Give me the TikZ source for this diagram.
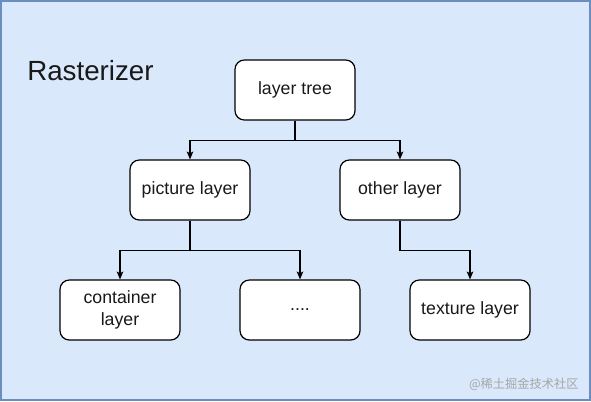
\documentclass[tikz,border=0pt]{standalone}
\usepackage{fontspec}
\setmainfont{Liberation Sans}
\newfontfamily\cjk{Noto Sans CJK SC}
\usetikzlibrary{arrows.meta, positioning}
\definecolor{bgblue}{HTML}{DAE8FC}
\definecolor{frameblue}{HTML}{6C8EBF}

\begin{document}
\begin{tikzpicture} [x = 0.75pt, y = -0.75pt, on grid,
    layer/.style = {draw, fill = white, rounded corners = 7pt, line width = 0.9pt,
                    minimum width = 90pt, minimum height = 45pt, align = center,
                    text = black!90, font = \fontsize{13.3}{16}\selectfont},
    arr/.style = {-{Stealth[length = 6pt, width = 5pt, inset = 1.5pt]}, line width = 0.9pt}]

\useasboundingbox (0,0) rectangle (591,401);
\fill [bgblue] (0,0) rectangle (591,401);
\draw [frameblue, line width = 1.1pt] (1,1) rectangle (590,400);

\node (title) [anchor = base west, inner sep = 0pt, text = black!90,
               font = \fontsize{20.8}{25}\selectfont] at (27, 80) {Rasterizer};

\node (tree) [layer] at (295, 90) {layer tree};
\node (picture) [layer, below left = 75pt and 78.75pt of tree] {picture layer};
\node (other) [layer, below right = 75pt and 78.75pt of tree] {other layer};
\node (container) [layer, below left = 90pt and 52.5pt of picture] {container\\layer};
\node (dots) [layer, below right = 90pt and 82.5pt of picture] {....};
\node (texture) [layer, below right = 90pt and 52.5pt of other] {texture layer};

\draw [arr] (tree.south) -- ++(0,20) -| (picture.north);
\draw [arr] (tree.south) -- ++(0,20) -| (other.north);
\draw [arr] (picture.south) -- ++(0,30) -| (container.north);
\draw [arr] (picture.south) -- ++(0,30) -| (dots.north);
\draw [arr] (other.south) -- ++(0,30) -| (texture.north);

\node (mark) [anchor = base east, inner sep = 0pt, text = black!35,
              font = \cjk\fontsize{9.2}{11}\selectfont] at (579, 388) {@稀土掘金技术社区};

\end{tikzpicture}
\end{document}
